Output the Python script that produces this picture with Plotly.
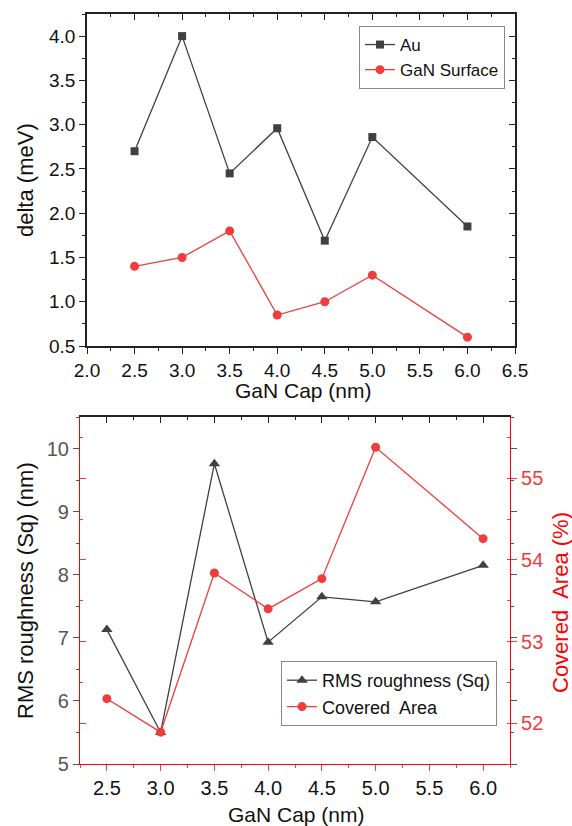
import plotly.graph_objects as go

# ---- data ----
cap_top = [2.5, 3.0, 3.5, 4.0, 4.5, 5.0, 6.0]
delta_au = [2.70, 4.00, 2.45, 2.96, 1.69, 2.86, 1.85]
delta_gan = [1.40, 1.50, 1.80, 0.85, 1.00, 1.30, 0.60]

cap_bot = [2.5, 3.0, 3.5, 4.0, 4.5, 5.0, 6.0]
rms_sq = [7.13, 5.50, 9.76, 6.93, 7.65, 7.57, 8.15]
covered_area = [52.30, 51.89, 53.84, 53.40, 53.77, 55.38, 54.26]

top_x_title = "GaN Cap (nm)"
top_y_title = "delta (meV)"
bot_x_title = "GaN Cap (nm)"
bot_y_title = "RMS roughness (Sq) (nm)"
bot_y2_title = "Covered  Area (%)"

GRAY = "#404040"
RED = "#f03c3c"
PURE_RED = "#ff0000"
TGRAY = "#555555"
DK = "#222222"
FONT = "Liberation Sans, Arial, sans-serif"

W, H = 572, 826


def px_x(p):
    return p / W


def px_y(p):
    return 1 - p / H


top_xd = [px_x(87), px_x(515)]
top_yd = [px_y(346), px_y(14)]
bot_xd = [px_x(80), px_x(510)]
bot_yd = [px_y(764), px_y(417)]

fig = go.Figure()

fig.add_trace(go.Scatter(
    x=cap_top, y=delta_au, name="Au", mode="lines+markers",
    line=dict(color=GRAY, width=1.3),
    marker=dict(symbol="square", size=8, color=GRAY),
    xaxis="x", yaxis="y", legend="legend"))
fig.add_trace(go.Scatter(
    x=cap_top, y=delta_gan, name="GaN Surface", mode="lines+markers",
    line=dict(color=RED, width=1.3),
    marker=dict(symbol="circle", size=9, color=RED),
    xaxis="x", yaxis="y", legend="legend"))

fig.add_trace(go.Scatter(
    x=cap_bot, y=rms_sq, name="RMS roughness (Sq)", mode="lines+markers",
    line=dict(color=GRAY, width=1.3),
    marker=dict(symbol="triangle-up", size=10, color=GRAY),
    xaxis="x2", yaxis="y2", legend="legend2"))
fig.add_trace(go.Scatter(
    x=cap_bot, y=covered_area, name="Covered  Area", mode="lines+markers",
    line=dict(color=RED, width=1.3),
    marker=dict(symbol="circle", size=9, color=RED),
    xaxis="x2", yaxis="y3", legend="legend2"))

# empty traces so that the overlay (mirror-tick) axes get drawn
for xa, ya in [("x3", "y"), ("x", "y4"), ("x4", "y2"), ("x2", "y5"), ("x2", "y6")]:
    fig.add_trace(go.Scatter(x=[None], y=[None], xaxis=xa, yaxis=ya,
                             showlegend=False, hoverinfo="skip"))

tick_font_top = dict(family=FONT, size=19, color="#111111")
tick_font_bot = dict(family=FONT, size=20, color="#111111")

common = dict(showgrid=False, zeroline=False, ticklen=6, tickwidth=1.2, automargin=False)

fig.update_layout(
    width=W, height=H,
    margin=dict(l=0, r=0, t=0, b=0),
    paper_bgcolor="white", plot_bgcolor="white",
    font=dict(family=FONT, color="#111111"),
    # ---------- top plot ----------
    xaxis=dict(domain=top_xd, anchor="y", range=[2.0, 6.5], dtick=0.5, tick0=2.0,
               tickformat=".1f", ticks="outside", tickcolor=DK,
               showline=True, linecolor=DK, linewidth=1.5,
               minor=dict(ticks="outside", dtick=0.25, ticklen=3, tickcolor=DK),
               tickfont=tick_font_top, **common),
    yaxis=dict(domain=top_yd, anchor="x", range=[0.5, 4.25], dtick=0.5, tick0=0.5,
               tickformat=".1f", ticks="outside", tickcolor=DK,
               showline=True, linecolor=DK, linewidth=1.5,
               minor=dict(ticks="outside", dtick=0.25, ticklen=3, tickcolor=DK),
               tickfont=tick_font_top, **common),
    xaxis3=dict(overlaying="x", anchor="y", side="top", range=[2.0, 6.5], dtick=0.5,
                tick0=2.0, ticks="inside", tickcolor=DK, showticklabels=False,
                showline=True, linecolor=DK, linewidth=1.5,
                minor=dict(ticks="inside", dtick=0.25, ticklen=3, tickcolor=DK),
                **common),
    yaxis4=dict(overlaying="y", anchor="x", side="right", range=[0.5, 4.25], dtick=0.5,
                tick0=0.5, ticks="inside", tickcolor=DK, showticklabels=False,
                showline=True, linecolor=DK, linewidth=1.5,
                minor=dict(ticks="inside", dtick=0.25, ticklen=3, tickcolor=DK),
                **common),
    # ---------- bottom plot ----------
    xaxis2=dict(domain=bot_xd, anchor="y2", range=[2.25, 6.25], dtick=0.5, tick0=2.5,
                tickformat=".1f", ticks="outside", tickcolor=RED,
                showline=True, linecolor=PURE_RED, linewidth=1.2,
                minor=dict(ticks="outside", dtick=0.25, ticklen=3, tickcolor=RED),
                tickfont=tick_font_bot, **common),
    xaxis4=dict(overlaying="x2", anchor="y2", side="top", range=[2.25, 6.25], dtick=0.5,
                tick0=2.5, ticks="inside", tickcolor=DK, showticklabels=False,
                showline=True, linecolor=DK, linewidth=1.5,
                minor=dict(ticks="inside", dtick=0.25, ticklen=3, tickcolor=DK),
                **common),
    yaxis2=dict(domain=bot_yd, anchor="x2", range=[5, 10.5], dtick=1, tick0=5,
                ticks="outside", tickcolor=TGRAY,
                showline=True, linecolor=PURE_RED, linewidth=1.2,
                minor=dict(ticks="outside", dtick=0.5, ticklen=3, tickcolor=TGRAY),
                tickfont=dict(family=FONT, size=20, color=TGRAY), **common),
    yaxis3=dict(overlaying="y2", anchor="x2", side="right", range=[51.5, 55.75], dtick=1,
                tick0=52, ticks="outside", tickcolor=RED,
                showline=True, linecolor=PURE_RED, linewidth=1.2,
                minor=dict(ticks="inside", dtick=0.5, ticklen=3, tickcolor=RED),
                tickfont=dict(family=FONT, size=20, color=RED), **common),
    yaxis5=dict(overlaying="y2", anchor="x2", side="left", range=[51.5, 55.75], dtick=1,
                tick0=52, ticks="inside", tickcolor=RED, showticklabels=False,
                showline=False,
                minor=dict(ticks="inside", dtick=0.5, ticklen=3, tickcolor=RED),
                **common),
    yaxis6=dict(overlaying="y2", anchor="x2", side="right", range=[5, 10.5], dtick=1,
                tick0=5, ticks="outside", tickcolor=TGRAY, showticklabels=False,
                showline=False,
                minor=dict(ticks="outside", dtick=0.5, ticklen=3, tickcolor=TGRAY),
                **common),
    legend=dict(x=px_x(505), y=px_y(26), xanchor="right", yanchor="top",
                bgcolor="white", bordercolor="#888888", borderwidth=1,
                font=dict(family=FONT, size=17, color="#111111"),
                tracegroupgap=0, itemsizing="trace"),
    legend2=dict(x=px_x(497), y=px_y(661), xanchor="right", yanchor="top",
                 bgcolor="white", bordercolor="#888888", borderwidth=1,
                 font=dict(family=FONT, size=18, color="#111111"),
                 tracegroupgap=0, itemsizing="trace"),
)

ann = [
    (top_x_title, 303, 391, 0, "#111111", 21),
    (top_y_title, 25, 180, -90, "#111111", 22),
    (bot_x_title, 296, 814, 0, "#111111", 21),
    (bot_y_title, 25, 591, -90, "#111111", 22),
    (bot_y2_title, 560, 603, -90, PURE_RED, 22),
]
for text, xc, yc, ang, col, fs in ann:
    fig.add_annotation(text=text, x=px_x(xc), y=px_y(yc), xref="paper", yref="paper",
                       xanchor="center", yanchor="middle", textangle=ang,
                       showarrow=False, font=dict(family=FONT, size=fs, color=col))

fig.write_html("out.html")
